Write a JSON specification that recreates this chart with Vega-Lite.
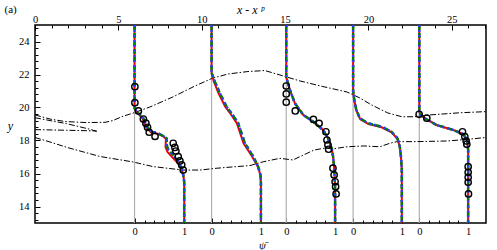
{
 "$schema": "https://vega.github.io/schema/vega-lite/v6.json",
 "width": 451, "height": 198,
 "autosize": {"type": "none"},
 "padding": {"left": 35, "top": 25, "right": 11, "bottom": 27},
 "background": "white",
 "datasets": {
  "bases": [{"x":5.97},{"x":10.59},{"x":15.07},{"x":19.08},{"x":23.05}],
  "contours": [
   {"c":"A","x":0,"y":19.55},{"c":"A","x":0.9,"y":19.3},{"c":"A","x":1.8,"y":19.15},{"c":"A","x":3.0,"y":19.09},{"c":"A","x":4.2,"y":19.1},{"c":"A","x":4.68,"y":19.21},{"c":"A","x":5.22,"y":19.45},{"c":"A","x":6.0,"y":19.7},{"c":"A","x":6.89,"y":20.03},{"c":"A","x":8.27,"y":20.64},{"c":"A","x":9.59,"y":21.3},{"c":"A","x":10.61,"y":21.76},{"c":"A","x":11.57,"y":22.03},{"c":"A","x":12.77,"y":22.18},{"c":"A","x":13.79,"y":22.24},{"c":"A","x":14.69,"y":21.97},{"c":"A","x":15.89,"y":21.61},{"c":"A","x":17.27,"y":21.27},{"c":"A","x":18.71,"y":20.94},{"c":"A","x":19.48,"y":20.58},{"c":"A","x":20.2,"y":20.15},{"c":"A","x":21.16,"y":19.67},{"c":"A","x":22.0,"y":19.44},{"c":"A","x":22.72,"y":19.44},{"c":"A","x":23.68,"y":19.55},{"c":"A","x":25.48,"y":19.68},{"c":"A","x":27.04,"y":19.75},
   {"c":"B","x":0,"y":19.38},{"c":"B","x":1.9,"y":19.02},{"c":"B","x":3.3,"y":18.68},{"c":"B","x":3.7,"y":18.55},
   {"c":"C","x":0,"y":18.66},{"c":"C","x":1.9,"y":18.62},{"c":"C","x":3.7,"y":18.58},
   {"c":"D","x":0,"y":18.18},{"c":"D","x":0.9,"y":17.91},{"c":"D","x":1.92,"y":17.58},{"c":"D","x":3.9,"y":17.03},{"c":"D","x":5.88,"y":16.7},{"c":"D","x":7.07,"y":16.42},{"c":"D","x":8.87,"y":16.21},{"c":"D","x":9.89,"y":16.21},{"c":"D","x":10.91,"y":16.32},{"c":"D","x":11.99,"y":16.41},{"c":"D","x":12.89,"y":16.48},{"c":"D","x":13.73,"y":16.72},{"c":"D","x":14.69,"y":16.92},{"c":"D","x":15.47,"y":16.82},{"c":"D","x":16.31,"y":17.22},{"c":"D","x":16.73,"y":17.42},{"c":"D","x":17.33,"y":17.53},{"c":"D","x":17.93,"y":17.5},{"c":"D","x":18.71,"y":17.62},{"c":"D","x":19.72,"y":17.67},{"c":"D","x":20.68,"y":17.62},{"c":"D","x":21.28,"y":17.83},{"c":"D","x":21.7,"y":17.93},{"c":"D","x":22.72,"y":17.93},{"c":"D","x":24.7,"y":17.97},{"c":"D","x":25.72,"y":18.05},{"c":"D","x":27.04,"y":18.18}
  ],
  "prof": [
   {"p":1,"x":5.97,"y":25},{"p":1,"x":5.97,"y":19.95},{"p":1,"x":6.1,"y":19.75},{"p":1,"x":6.5,"y":19.35},{"p":1,"x":6.7,"y":18.84},{"p":1,"x":7.0,"y":18.53},{"p":1,"x":7.4,"y":18.43},{"p":1,"x":7.69,"y":18.27},{"p":1,"x":7.9,"y":18.13},{"p":1,"x":7.9,"y":17.73},{"p":1,"x":8.0,"y":17.42},{"p":1,"x":8.29,"y":17.12},{"p":1,"x":8.59,"y":16.72},{"p":1,"x":8.79,"y":16.31},{"p":1,"x":8.89,"y":15.91},{"p":1,"x":8.95,"y":15.5},{"p":1,"x":8.95,"y":13},
   {"p":2,"x":10.59,"y":25},{"p":2,"x":10.59,"y":22.1},{"p":2,"x":10.64,"y":21.97},{"p":2,"x":10.79,"y":21.56},{"p":2,"x":11.09,"y":20.86},{"p":2,"x":11.49,"y":20.05},{"p":2,"x":11.79,"y":19.65},{"p":2,"x":12.19,"y":19.04},{"p":2,"x":12.59,"y":17.83},{"p":2,"x":13.09,"y":17.02},{"p":2,"x":13.39,"y":16.41},{"p":2,"x":13.52,"y":15.91},{"p":2,"x":13.55,"y":15.41},{"p":2,"x":13.55,"y":13},
   {"p":3,"x":15.07,"y":25},{"p":3,"x":15.07,"y":21.85},{"p":3,"x":15.29,"y":21.06},{"p":3,"x":15.59,"y":20.25},{"p":3,"x":16.09,"y":19.55},{"p":3,"x":16.69,"y":19.14},{"p":3,"x":17.28,"y":18.64},{"p":3,"x":17.58,"y":18.13},{"p":3,"x":17.79,"y":17.53},{"p":3,"x":17.88,"y":17.02},{"p":3,"x":17.95,"y":16.21},{"p":3,"x":18.0,"y":15.2},{"p":3,"x":18.0,"y":13},
   {"p":4,"x":19.08,"y":25},{"p":4,"x":19.08,"y":21.0},{"p":4,"x":19.15,"y":20.45},{"p":4,"x":19.27,"y":19.85},{"p":4,"x":19.48,"y":19.35},{"p":4,"x":19.98,"y":19.04},{"p":4,"x":20.79,"y":18.84},{"p":4,"x":21.38,"y":18.53},{"p":4,"x":21.74,"y":18.13},{"p":4,"x":21.88,"y":17.62},{"p":4,"x":21.95,"y":17.02},{"p":4,"x":22.0,"y":16.21},{"p":4,"x":22.0,"y":13},
   {"p":5,"x":23.05,"y":25},{"p":5,"x":23.05,"y":19.73},{"p":5,"x":23.14,"y":19.55},{"p":5,"x":23.38,"y":19.35},{"p":5,"x":24.08,"y":18.94},{"p":5,"x":25.08,"y":18.64},{"p":5,"x":25.68,"y":18.39},{"p":5,"x":25.92,"y":18.03},{"p":5,"x":25.98,"y":17.42},{"p":5,"x":25.98,"y":13}
  ],
  "red": [
   {"p":1,"x":5.97,"y":25},{"p":1,"x":5.97,"y":19.95},{"p":1,"x":6.08,"y":19.75},{"p":1,"x":6.45,"y":19.35},{"p":1,"x":6.65,"y":18.84},{"p":1,"x":6.95,"y":18.5},{"p":1,"x":7.4,"y":18.4},{"p":1,"x":7.69,"y":18.25},{"p":1,"x":7.85,"y":18.1},{"p":1,"x":7.83,"y":17.6},{"p":1,"x":7.95,"y":17.3},{"p":1,"x":8.2,"y":17.02},{"p":1,"x":8.55,"y":16.65},{"p":1,"x":8.79,"y":16.28},{"p":1,"x":8.89,"y":15.91},{"p":1,"x":8.95,"y":15.5},{"p":1,"x":8.95,"y":13},
   {"p":2,"x":10.59,"y":25},{"p":2,"x":10.59,"y":22.1},{"p":2,"x":10.62,"y":21.97},{"p":2,"x":10.73,"y":21.56},{"p":2,"x":11.01,"y":20.86},{"p":2,"x":11.41,"y":20.05},{"p":2,"x":11.71,"y":19.65},{"p":2,"x":12.11,"y":19.04},{"p":2,"x":12.51,"y":17.83},{"p":2,"x":13.03,"y":17.02},{"p":2,"x":13.37,"y":16.41},{"p":2,"x":13.52,"y":15.91},{"p":2,"x":13.55,"y":15.41},{"p":2,"x":13.55,"y":13},
   {"p":3,"x":15.07,"y":25},{"p":3,"x":15.07,"y":21.85},{"p":3,"x":15.29,"y":21.06},{"p":3,"x":15.59,"y":20.25},{"p":3,"x":16.09,"y":19.55},{"p":3,"x":16.69,"y":19.14},{"p":3,"x":17.28,"y":18.64},{"p":3,"x":17.58,"y":18.13},{"p":3,"x":17.79,"y":17.53},{"p":3,"x":17.88,"y":17.02},{"p":3,"x":17.95,"y":16.21},{"p":3,"x":18.0,"y":15.2},{"p":3,"x":18.0,"y":13},
   {"p":4,"x":19.08,"y":25},{"p":4,"x":19.08,"y":21.0},{"p":4,"x":19.15,"y":20.45},{"p":4,"x":19.27,"y":19.85},{"p":4,"x":19.5,"y":19.3},{"p":4,"x":20.0,"y":19.0},{"p":4,"x":20.79,"y":18.8},{"p":4,"x":21.38,"y":18.5},{"p":4,"x":21.74,"y":18.1},{"p":4,"x":21.88,"y":17.62},{"p":4,"x":21.95,"y":17.02},{"p":4,"x":22.0,"y":16.21},{"p":4,"x":22.0,"y":13},
   {"p":5,"x":23.05,"y":25},{"p":5,"x":23.05,"y":19.73},{"p":5,"x":23.14,"y":19.55},{"p":5,"x":23.38,"y":19.35},{"p":5,"x":24.08,"y":18.94},{"p":5,"x":25.08,"y":18.64},{"p":5,"x":25.68,"y":18.39},{"p":5,"x":25.92,"y":18.03},{"p":5,"x":25.98,"y":17.42},{"p":5,"x":25.98,"y":13}
  ],
  "exp": [
   {"x":5.99,"y":21.26},{"x":5.99,"y":20.29},{"x":6.2,"y":19.79},{"x":6.5,"y":19.3},{"x":6.65,"y":19.05},{"x":6.75,"y":18.8},{"x":6.85,"y":18.5},{"x":7.2,"y":18.25},{"x":8.29,"y":17.83},{"x":8.39,"y":17.58},{"x":8.45,"y":17.36},{"x":8.59,"y":17.02},{"x":8.69,"y":16.76},{"x":8.8,"y":16.52},{"x":8.89,"y":16.21},
   {"x":15.07,"y":21.3},{"x":15.07,"y":20.82},{"x":15.07,"y":20.32},{"x":15.61,"y":19.79},{"x":16.7,"y":19.28},{"x":17.04,"y":19.04},{"x":17.45,"y":18.53},{"x":17.51,"y":18.03},{"x":17.57,"y":17.73},{"x":17.61,"y":17.47},{"x":17.87,"y":16.32},{"x":17.94,"y":15.91},{"x":18.0,"y":15.5},{"x":18.03,"y":15.2},{"x":18.06,"y":14.76},
   {"x":23.04,"y":19.59},{"x":23.5,"y":19.35},{"x":25.64,"y":18.53},{"x":25.78,"y":18.23},{"x":25.86,"y":17.97},{"x":25.9,"y":17.77},{"x":25.98,"y":16.41},{"x":25.98,"y":16.07},{"x":25.98,"y":15.77},{"x":25.98,"y":15.47},{"x":26.0,"y":14.76}
  ]
 },
 "layer": [
  {
   "data": {"name": "bases"},
   "mark": {"type": "rule", "color": "#b0b0b0", "strokeWidth": 1.2},
   "encoding": {
    "x": {"field": "x", "type": "quantitative", "scale": {"domain": [0, 27.05], "nice": false, "zero": false},
     "axis": {"orient": "top", "values": [0,5,10,15,20,25], "tickSize": -5, "labelPadding": 6, "labelFlush": false,
      "title": "x - x ᵖ", "titleX": 215, "titleY": -12, "titleFontSize": 12, "titleFontStyle": "italic", "titleBaseline": "alphabetic", "titleAlign": "center"}}
   }
  },
  {
   "data": {"name": "contours"},
   "mark": {"type": "line", "color": "#000", "strokeWidth": 1, "strokeDash": [6, 2, 1.5, 2]},
   "encoding": {
    "x": {"field": "x", "type": "quantitative", "scale": {"domain": [0, 27.05], "nice": false, "zero": false},
     "axis": {"orient": "top", "values": [1,2,3,4,6,7,8,9,11,12,13,14,16,17,18,19,21,22,23,24,26,27], "tickSize": -3, "labels": false, "title": null}},
    "y": {"field": "y", "type": "quantitative", "scale": {"domain": [13, 25], "nice": false, "zero": false},
     "axis": {"orient": "left", "values": [14,16,18,20,22,24], "tickSize": -5, "labelPadding": 11, "labelFlush": false,
      "title": "y", "titleAngle": 0, "titleX": -25, "titleY": 100, "titleAlign": "center", "titleBaseline": "middle", "titleFontStyle": "italic", "titleFontSize": 12}},
    "detail": {"field": "c"}
   }
  },
  {
   "data": {"name": "red"},
   "mark": {"type": "line", "color": "#ee0000", "strokeWidth": 2},
   "encoding": {
    "x": {"field": "x", "type": "quantitative", "scale": {"domain": [0, 27.05], "nice": false, "zero": false},
     "axis": {"orient": "bottom", "values": [5.97,10.59,15.07,19.08,23.05], "labelExpr": "'0'", "tickSize": -5, "labelPadding": 8, "labelFlush": false,
      "title": "ψ̄", "titleX": 227, "titleY": 25, "titleFontSize": 11, "titleFontStyle": "italic", "titleBaseline": "alphabetic", "titleAlign": "center"}},
    "y": {"field": "y", "type": "quantitative", "scale": {"domain": [13, 25], "nice": false, "zero": false},
     "axis": {"orient": "left", "values": [13.2,13.6,14.4,14.8,15.2,15.6,16.4,16.8,17.2,17.6,18.4,18.8,19.2,19.6,20.4,20.8,21.2,21.6,22.4,22.8,23.2,23.6,24.4,24.8], "tickSize": -3, "labels": false, "title": null}},
    "detail": {"field": "p"},
    "order": {"field": "y", "sort": "descending"}
   }
  },
  {
   "data": {"name": "prof"},
   "mark": {"type": "line", "color": "#007a00", "strokeWidth": 2.5, "strokeDash": [5, 3]},
   "encoding": {
    "x": {"field": "x", "type": "quantitative", "scale": {"domain": [0, 27.05], "nice": false, "zero": false},
     "axis": {"orient": "bottom", "values": [8.95,13.55,18.0,22.0,25.98], "labelExpr": "'1'", "tickSize": -5, "labelPadding": 8, "labelFlush": false, "title": null}},
    "y": {"field": "y", "type": "quantitative", "scale": {"domain": [13, 25], "nice": false, "zero": false}, "axis": null},
    "detail": {"field": "p"},
    "order": {"field": "y", "sort": "descending"}
   }
  },
  {
   "data": {"name": "prof"},
   "mark": {"type": "line", "color": "#2f3cff", "strokeWidth": 2.5, "strokeDash": [2, 3]},
   "encoding": {
    "x": {"field": "x", "type": "quantitative", "scale": {"domain": [0, 27.05], "nice": false, "zero": false},
     "axis": {"orient": "bottom", "values": [6.57,7.16,7.76,8.35,11.18,11.77,12.37,12.96,15.66,16.24,16.83,17.41,19.66,20.25,20.83,21.42,23.64,24.22,24.81,25.39], "tickSize": -3, "labels": false, "title": null}},
    "y": {"field": "y", "type": "quantitative", "scale": {"domain": [13, 25], "nice": false, "zero": false}, "axis": null},
    "detail": {"field": "p"},
    "order": {"field": "y", "sort": "descending"}
   }
  },
  {
   "data": {"name": "exp"},
   "mark": {"type": "point", "shape": "circle", "filled": false, "color": "#000", "strokeWidth": 1.4, "size": 40, "opacity": 1},
   "encoding": {
    "x": {"field": "x", "type": "quantitative", "scale": {"domain": [0, 27.05], "nice": false, "zero": false},
     "axis": {"orient": "top", "labels": false, "ticks": false, "title": "(a)", "titleX": -31, "titleY": -13, "titleAlign": "left", "titleBaseline": "alphabetic", "titleFontSize": 11, "titleFontStyle": "normal"}},
    "y": {"field": "y", "type": "quantitative", "scale": {"domain": [13, 25], "nice": false, "zero": false}, "axis": null}
   }
  }
 ],
 "resolve": {"axis": {"x": "independent", "y": "independent"}},
 "config": {
  "view": {"stroke": "#000", "strokeWidth": 1.5},
  "axis": {"labelFont": "Liberation Serif, serif", "labelFontSize": 10.5, "labelColor": "#000", "titleFont": "Liberation Serif, serif", "titleFontWeight": "normal", "titleColor": "#000", "grid": false, "domain": false, "tickColor": "#000", "tickWidth": 1}
 }
}
